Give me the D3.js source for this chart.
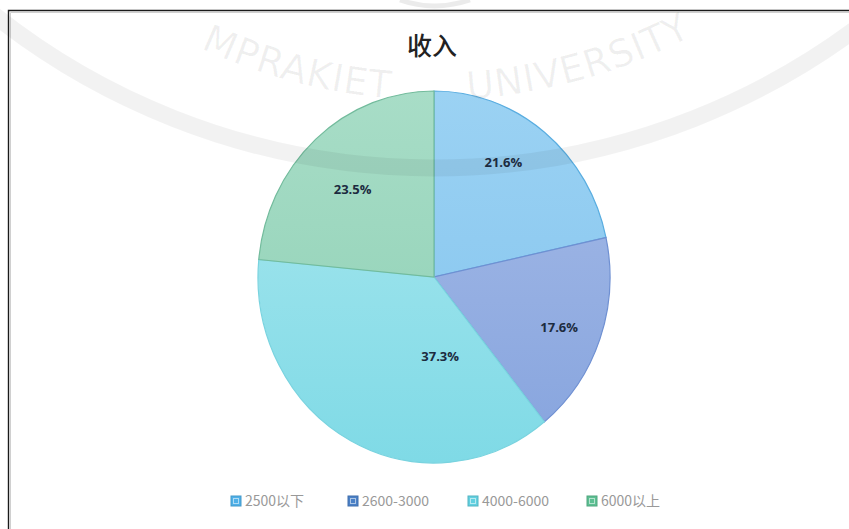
<!DOCTYPE html>
<html>
<head>
<meta charset="utf-8">
<script src="https://cdn.jsdelivr.net/npm/d3@7"></script>
<style>
  html, body { margin: 0; padding: 0; background: #fff; }
  svg { display: block; }
</style>
</head>
<body>
<svg id="chart" width="849" height="529"></svg>
<script>
// ---- data ----
const categories = ["2500以下", "2600-3000", "4000-6000", "6000以上"];
const values = [21.6, 17.6, 37.3, 23.5];
const labels = ["21.6%", "17.6%", "37.3%", "23.5%"];
const title = "收入";
const watermarkWords = ["MPRAKIET", "UNIVERSITY"];

// ---- styles ----
const gradTop    = ["#9bd2f3", "#a6bbe7", "#ace8ef", "#a8ddc7"];
const gradBottom = ["#82c3ee", "#86a4de", "#7fdae6", "#8ccfb3"];
const strokes    = ["#59ade0", "#6f90d2", "#79d3df", "#72bb9c"];
const swatches   = ["#4fb0e8", "#4a80c6", "#62d0e0", "#5cbf92"];
// label placement inside each slice: [fraction of slice angle, fraction of radius]
const labelPlace = [[0.42, 0.73], [0.52, 0.76], [0.255, 0.43], [0.474, 0.66]];

const svg = d3.select("#chart");
const W = 849, H = 529;
const cx = 434, cy = 277, R = 186, sx = 176 / 186;
const defs = svg.append("defs");

// ---- frame ----
svg.append("path").attr("d", `M8.5,${H} V10.5 H${W}`)
  .attr("fill", "none").attr("stroke", "#1a1a1a").attr("stroke-width", 1.4);
svg.append("path").attr("d", `M10.5,${H} V12.5 H${W}`)
  .attr("fill", "none").attr("stroke", "#d0d0d0").attr("stroke-width", 1);

// ---- title ----
svg.append("text")
  .attr("x", 432).attr("y", 55)
  .attr("text-anchor", "middle")
  .attr("font-family", "Noto Sans CJK SC, sans-serif")
  .attr("font-weight", 500)
  .attr("font-size", 25)
  .attr("fill", "#222")
  .text(title);

// ---- gradients ----
categories.forEach((c, i) => {
  const g = defs.append("linearGradient")
    .attr("id", "grad" + i)
    .attr("gradientUnits", "userSpaceOnUse")
    .attr("x1", 0).attr("y1", -R).attr("x2", 0).attr("y2", R);
  g.append("stop").attr("offset", "0%").attr("stop-color", gradTop[i]);
  g.append("stop").attr("offset", "100%").attr("stop-color", gradBottom[i]);
});

// ---- pie ----
const pie = d3.pie().value(d => d).sort(null);
const arcs = pie(values);
const arc = d3.arc().innerRadius(0).outerRadius(R);

const pg = svg.append("g").attr("transform", `translate(${cx},${cy}) scale(${sx},1)`);
pg.selectAll("path.slice")
  .data(arcs)
  .join("path")
  .attr("class", "slice")
  .attr("d", arc)
  .attr("fill", (d, i) => `url(#grad${i})`)
  .attr("stroke", (d, i) => strokes[i])
  .attr("stroke-width", 1.2)
  .attr("vector-effect", "non-scaling-stroke");

// ---- faint watermark (drawn over everything, very transparent) ----
const wm = svg.append("g").attr("class", "watermark").attr("pointer-events", "none");
const wcx = 434, wcy = -540;
wm.append("circle").attr("cx", wcx).attr("cy", wcy).attr("r", 708)
  .attr("fill", "none").attr("stroke", "#000").attr("stroke-opacity", 0.05)
  .attr("stroke-width", 17);
const tcx = 434, tcy = -450, tr = 550;
function ptAt(deg) { // deg measured from straight-down, positive to the right
  const a = deg * Math.PI / 180;
  return [tcx + tr * Math.sin(a), tcy + tr * Math.cos(a)];
}
const L0 = ptAt(-45), L1 = ptAt(-4.5);
defs.append("path").attr("id", "wmArcL")
  .attr("d", `M${L0[0]},${L0[1]} A${tr},${tr} 0 0 0 ${L1[0]},${L1[1]}`);
const R0 = ptAt(3.5), R1 = ptAt(58);
defs.append("path").attr("id", "wmArcR")
  .attr("d", `M${R0[0]},${R0[1]} A${tr},${tr} 0 0 0 ${R1[0]},${R1[1]}`);
const wmText = (id, word, anchor, offset) => wm.append("text")
  .attr("font-family", "DejaVu Sans, Arial, sans-serif")
  .attr("font-size", 38)
  .attr("letter-spacing", 1)
  .attr("fill", "#000").attr("fill-opacity", 0.06)
  .append("textPath")
  .attr("href", "#" + id)
  .attr("startOffset", offset)
  .attr("text-anchor", anchor)
  .text(word);
wmText("wmArcL", watermarkWords[0], "end", "100%");
wmText("wmArcR", watermarkWords[1], "start", "0%");
wm.append("path")
  .attr("d", `M400,0 Q434,12 470,0`)
  .attr("fill", "none").attr("stroke", "#000").attr("stroke-opacity", 0.08).attr("stroke-width", 5);

// ---- labels ----
const lg = svg.append("g").attr("transform", `translate(${cx},${cy})`);
lg.selectAll("text")
  .data(arcs)
  .join("text")
  .attr("transform", (d, i) => {
    const [f, rf] = labelPlace[i];
    const a = d.startAngle + (d.endAngle - d.startAngle) * f;
    const r = R * rf;
    return `translate(${r * Math.sin(a) * sx},${-r * Math.cos(a)})`;
  })
  .attr("text-anchor", "middle")
  .attr("dy", "0.35em")
  .attr("font-family", "Open Sans, Liberation Sans, sans-serif")
  .attr("font-weight", 700)
  .attr("font-size", 13)
  .attr("fill", "#1c2b3f")
  .text((d, i) => labels[i]);

// ---- legend ----
const legX = d3.scaleOrdinal().domain(categories).range([231, 348, 468, 587]);
const leg = svg.append("g");
const items = leg.selectAll("g").data(categories).join("g")
  .attr("transform", d => `translate(${legX(d)},501)`);
items.append("rect")
  .attr("x", 0).attr("y", -5).attr("width", 10).attr("height", 10)
  .attr("fill", (d, i) => swatches[i])
  .attr("stroke", (d, i) => d3.color(swatches[i]).darker(0.4))
  .attr("stroke-width", 1);
items.append("rect")
  .attr("x", 2.5).attr("y", -2.5).attr("width", 5).attr("height", 5)
  .attr("fill", "none")
  .attr("stroke", "rgba(255,255,255,0.55)")
  .attr("stroke-width", 1);
items.append("text")
  .attr("x", 14).attr("y", 0).attr("dy", "0.35em")
  .attr("font-family", "Noto Sans CJK SC, sans-serif")
  .attr("font-size", 14)
  .attr("fill", "#999")
  .text(d => d);
</script>
</body>
</html>
